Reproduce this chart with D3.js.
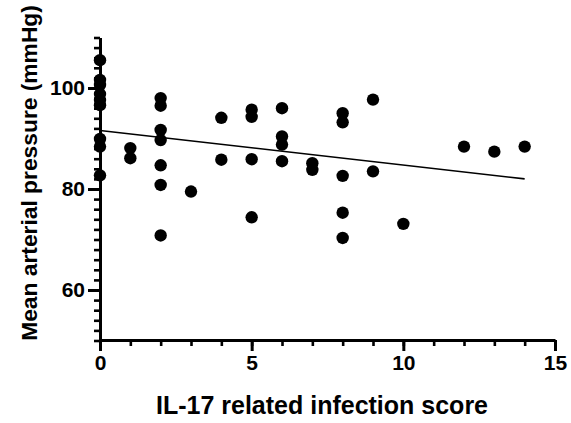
<!DOCTYPE html>
<html>
<head>
<meta charset="utf-8">
<script src="https://cdn.jsdelivr.net/npm/d3@7/dist/d3.min.js"></script>
<style>
  html, body { margin: 0; padding: 0; background: #fff; }
  svg { display: block; }
  text { font-family: "Liberation Sans", Arial, Helvetica, sans-serif; font-weight: bold; fill: #000; }
</style>
</head>
<body>
<svg id="chart" width="571" height="423"></svg>
<script>
// Infection score (x) and mean arterial pressure (y) for each subject
const infectionScore = [
  0, 0, 0, 0, 0, 0, 0, 0, 0,
  1, 1,
  2, 2, 2, 2, 2, 2, 2,
  3,
  4, 4,
  5, 5, 5, 5,
  6, 6, 6, 6,
  7, 7,
  8, 8, 8, 8, 8,
  9, 9,
  10,
  12, 13, 14
];
const meanArterialPressure = [
  105.5, 101.6, 100.6, 98.8, 97.6, 96.6, 89.9, 88.4, 82.7,
  88.1, 86.1,
  98.0, 96.5, 91.7, 89.7, 84.7, 80.8, 70.8,
  79.5,
  94.1, 85.8,
  95.7, 94.3, 85.9, 74.4,
  96.0, 90.4, 88.8, 85.5,
  85.1, 83.8,
  95.0, 93.2, 82.6, 75.3, 70.3,
  97.7, 83.5,
  73.1,
  88.4, 87.4, 88.4
];

// Fitted regression line endpoints
const fitX = [0, 14];
const fitY = [91.6, 82.0];

// Axis ticks
const xMajorTicks = [0, 5, 10, 15];
const xMinorTicks = d3.range(0, 16, 1);
const yMajorTicks = [60, 80, 100];
const yMinorTicks = d3.range(50, 111, 2);

const svg = d3.select("#chart");

const x = d3.scaleLinear().domain([0, 15]).range([100, 555]);
const y = d3.scaleLinear().domain([50, 110]).range([340.5, 37.5]);

// Y axis: minor ticks, then major ticks with labels
svg.append("g")
  .attr("transform", "translate(100,0)")
  .call(d3.axisLeft(y).tickValues(yMinorTicks).tickSize(6).tickFormat("").tickSizeOuter(0))
  .call(g => g.select(".domain").remove())
  .call(g => g.selectAll("line").attr("stroke", "#000").attr("stroke-width", 2.6));

svg.append("g")
  .attr("transform", "translate(100,0)")
  .call(d3.axisLeft(y).tickValues(yMajorTicks).tickSize(12).tickPadding(3).tickSizeOuter(0))
  .call(g => g.select(".domain").attr("stroke", "#000").attr("stroke-width", 3))
  .call(g => g.selectAll("line").attr("stroke", "#000").attr("stroke-width", 3))
  .call(g => g.selectAll("text").attr("font-size", 21).attr("font-family", "Liberation Sans, Arial, sans-serif").attr("font-weight", "bold").attr("fill", "#000"));

// X axis: minor ticks, then major ticks with labels
svg.append("g")
  .attr("transform", "translate(0,340)")
  .call(d3.axisBottom(x).tickValues(xMinorTicks).tickSize(6).tickFormat("").tickSizeOuter(0))
  .call(g => g.select(".domain").remove())
  .call(g => g.selectAll("line").attr("stroke", "#000").attr("stroke-width", 2.6));

svg.append("g")
  .attr("transform", "translate(0,340)")
  .call(d3.axisBottom(x).tickValues(xMajorTicks).tickSize(11).tickPadding(4).tickSizeOuter(0))
  .call(g => g.select(".domain").attr("stroke", "#000").attr("stroke-width", 3))
  .call(g => g.selectAll("line").attr("stroke", "#000").attr("stroke-width", 3))
  .call(g => g.selectAll("text").attr("font-size", 21).attr("font-family", "Liberation Sans, Arial, sans-serif").attr("font-weight", "bold").attr("fill", "#000"));

// Regression line
svg.append("line")
  .attr("x1", x(fitX[0])).attr("y1", y(fitY[0]))
  .attr("x2", x(fitX[1])).attr("y2", y(fitY[1]))
  .attr("stroke", "#000").attr("stroke-width", 1.6);

// Data points
svg.append("g")
  .selectAll("circle")
  .data(infectionScore.map((s, i) => [s, meanArterialPressure[i]]))
  .join("circle")
  .attr("cx", d => x(d[0]))
  .attr("cy", d => y(d[1]))
  .attr("r", 6.2)
  .attr("fill", "#000");

// Axis titles
svg.append("text")
  .attr("x", 322).attr("y", 414)
  .attr("text-anchor", "middle")
  .attr("font-size", 25)
  .text("IL-17 related infection score");

svg.append("text")
  .attr("transform", "translate(37,173) rotate(-90)")
  .attr("text-anchor", "middle")
  .attr("font-size", 22.8)
  .text("Mean arterial pressure (mmHg)");
</script>
</body>
</html>
